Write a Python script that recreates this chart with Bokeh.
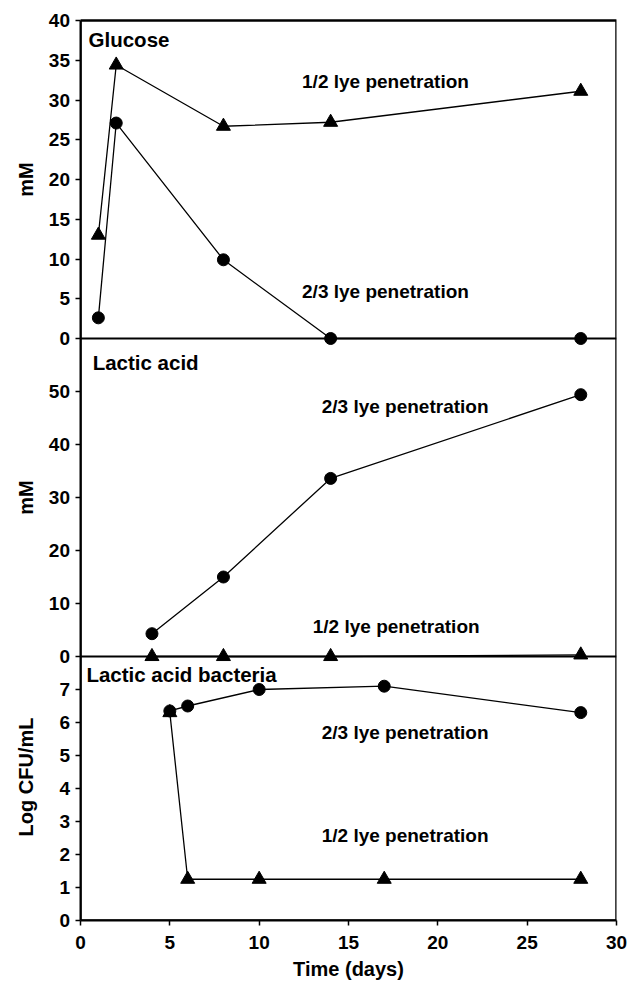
import math
from bokeh.plotting import figure
from bokeh.models import Range1d, FixedTicker, Label, CustomLabelingPolicy
from bokeh.layouts import row, column
from bokeh.core.properties import value
from bokeh.embed import file_html
from bokeh.resources import INLINE

# ---------------- data ----------------
glucose_days = [1, 2, 8, 14, 28]
glucose_half = [13.0, 34.4, 26.7, 27.2, 31.1]          # 1/2 lye penetration
glucose_twothirds = [2.6, 27.1, 9.9, 0.0, 0.0]         # 2/3 lye penetration

lactic_days = [4, 8, 14, 28]
lactic_twothirds = [4.3, 15.0, 33.6, 49.4]
lactic_half = [0.0, 0.0, 0.0, 0.3]

lab_days = [5, 6, 10, 17, 28]
lab_twothirds = [6.35, 6.5, 7.0, 7.1, 6.3]
lab_half = [6.3, 1.25, 1.25, 1.25, 1.25]

glucose_ticks = [0, 5, 10, 15, 20, 25, 30, 35, 40]
lactic_ticks = [0, 10, 20, 30, 40, 50]
lab_ticks = [0, 1, 2, 3, 4, 5, 6, 7]
x_ticks = [0, 5, 10, 15, 20, 25, 30]

# ---------------- layout constants (pixels) ----------------
W, H = 628, 981
FRAME_L, FRAME_W, PANEL_T = 80, 536, 20
H1, H2, H3 = 318, 318, 264          # stacked panel heights
HT = H1 + H2 + H3
G_MAX, L_MAX, B_MAX = 40, 60, 8
GUT_W = 72                          # left gutter figure width (tick labels + titles)
MAIN_BL = FRAME_L - GUT_W           # main figure's own left border (tick marks)
MAIN_BB = 11                        # main figure's bottom border (tick marks)
MAIN_H = PANEL_T + HT + MAIN_BB     # height of the top row
STRIP_H = H - MAIN_H

# value of each panel's scale at q pixels below the top of the glucose panel
def glu_at(q):
    return G_MAX - q * G_MAX / H1

def lac_at(q):
    return L_MAX - (q - H1) * L_MAX / H2

def lab_at(q):
    return B_MAX - (q - H1 - H2) * B_MAX / H3

def lac_q(v):
    return H1 + (L_MAX - v) * H2 / L_MAX

def lab_q(v):
    return H1 + H2 + (B_MAX - v) * H3 / B_MAX

FONT = "Liberation Sans"
FS = "19px"          # tick labels, series notes
FS_TITLE = "20.5px"  # panel titles
FS_AX = "20px"       # axis titles

# ================= main plotting figure (frame from canvas top to the x axis) =================
q_top, q_bot = -PANEL_T, HT
p = figure(frame_width=FRAME_W, frame_height=PANEL_T + HT, title=None,
           x_range=Range1d(0, 30), y_range=Range1d(glu_at(q_bot), glu_at(q_top)),
           output_backend="svg", toolbar_location=None,
           min_border_left=MAIN_BL, min_border_right=W - FRAME_L - FRAME_W,
           min_border_top=0, min_border_bottom=MAIN_BB)
p.extra_y_ranges = {"lactic": Range1d(lac_at(q_bot), lac_at(q_top)),
                    "lab": Range1d(lab_at(q_bot), lab_at(q_top))}
p.xgrid.visible = False
p.ygrid.visible = False
p.outline_line_color = None
p.background_fill_color = "white"
p.border_fill_color = "white"

tick_pos = [float(v) for v in glucose_ticks] + \
           [glu_at(lac_q(v)) for v in lactic_ticks] + \
           [glu_at(lab_q(v)) for v in lab_ticks]

no_labels = CustomLabelingPolicy(code="""
for (const i of indices) { indices.unset(i) }
return indices
""")

for ax, ticks in ((p.yaxis[0], tick_pos), (p.xaxis[0], x_ticks)):
    ax.ticker = FixedTicker(ticks=ticks)
    ax.minor_tick_line_color = None
    ax.major_tick_in = 0
    ax.major_tick_out = 5
    ax.major_tick_line_width = 1.5
    ax.axis_line_width = 2
    ax.major_label_standoff = 0
    ax.major_label_text_font_size = "0px"
    ax.major_label_policy = no_labels
p.yaxis[0].bounds = (glu_at(HT), G_MAX)
p.xaxis[0].bounds = (0, 30)

# panel box and separators
p.quad(left=[0], right=[30], bottom=[glu_at(HT)], top=[G_MAX],
       fill_color=None, line_color="black", line_width=2.5)
p.hspan(y=[0], line_color="black", line_width=2)
p.hspan(y=[0], line_color="black", line_width=2, y_range_name="lactic")

LW = 1.3
# Glucose
p.line(glucose_days, glucose_half, line_color="black", line_width=LW)
p.line(glucose_days, glucose_twothirds, line_color="black", line_width=LW)
p.scatter(glucose_days, glucose_half, marker="triangle", size=14, color="black")
p.scatter(glucose_days, glucose_twothirds, marker="circle", size=12, color="black")
# Lactic acid
p.line(lactic_days, lactic_twothirds, line_color="black", line_width=LW, y_range_name="lactic")
p.line(lactic_days, lactic_half, line_color="black", line_width=LW, y_range_name="lactic")
p.scatter(lactic_days, lactic_twothirds, marker="circle", size=12, color="black", y_range_name="lactic")
p.scatter(lactic_days, lactic_half, marker="triangle", size=14, color="black", y_range_name="lactic")
# Lactic acid bacteria
p.line(lab_days, lab_twothirds, line_color="black", line_width=LW, y_range_name="lab")
p.line(lab_days, lab_half, line_color="black", line_width=LW, y_range_name="lab")
p.scatter(lab_days, lab_twothirds, marker="circle", size=12, color="black", y_range_name="lab")
p.scatter(lab_days, lab_half, marker="triangle", size=14, color="black", y_range_name="lab")

def add_label(text, x, y, rng="default", size=FS):
    p.add_layout(Label(x=x, y=y, text=text, y_range_name=rng,
                       text_font=FONT, text_font_style="bold", text_font_size=size,
                       text_color="black", text_align="left", text_baseline="middle"))

add_label("Glucose", 0.45, 37.6, size=FS_TITLE)
add_label("Lactic acid", 0.68, 55.4, "lactic", size=FS_TITLE)
add_label("Lactic acid bacteria", 0.33, 7.45, "lab", size=FS_TITLE)
add_label("1/2 lye penetration", 12.4, 32.3)
add_label("2/3 lye penetration", 12.4, 5.9)
add_label("2/3 lye penetration", 13.5, 47.2, "lactic")
add_label("1/2 lye penetration", 13.0, 5.66, "lactic")
add_label("2/3 lye penetration", 13.5, 5.71, "lab")
add_label("1/2 lye penetration", 13.5, 2.58, "lab")

# ================= left gutter: y tick labels and y titles =================
gq_top, gq_bot = -PANEL_T, HT + MAIN_BB
g = figure(frame_width=GUT_W, frame_height=MAIN_H, title=None,
           x_range=Range1d(0, GUT_W),
           y_range=Range1d(glu_at(gq_bot), glu_at(gq_top)),
           output_backend="svg", toolbar_location=None,
           x_axis_location=None, y_axis_location=None,
           min_border=0, min_border_left=0, min_border_right=0,
           min_border_top=0, min_border_bottom=0)
g.extra_y_ranges = {"lactic": Range1d(lac_at(gq_bot), lac_at(gq_top)),
                    "lab": Range1d(lab_at(gq_bot), lab_at(gq_top))}
g.outline_line_color = None
g.xgrid.visible = False
g.ygrid.visible = False
g.background_fill_color = "white"
g.border_fill_color = "white"

TICK_X = 69.5
TITLE_X = 25
txt_kw = dict(text_font=value(FONT), text_font_style="bold", text_color="black",
              text_baseline="middle")
for ticks, rng in ((glucose_ticks, "default"), (lactic_ticks, "lactic"), (lab_ticks, "lab")):
    g.text(x=[TICK_X] * len(ticks), y=ticks, text=[str(t) for t in ticks],
           text_align="right", y_range_name=rng, text_font_size=value(FS), **txt_kw)

g.text(x=[TITLE_X], y=[G_MAX / 2], text=["mM"], angle=math.pi / 2,
       text_align="center", text_font_size=value(FS_AX), **txt_kw)
g.text(x=[TITLE_X], y=[L_MAX / 2], text=["mM"], angle=math.pi / 2, y_range_name="lactic",
       text_align="center", text_font_size=value(FS_AX), **txt_kw)
g.text(x=[TITLE_X], y=[4.35], text=["Log CFU/mL"], angle=math.pi / 2, y_range_name="lab",
       text_align="center", text_font_size=value(FS_AX), **txt_kw)

# ================= bottom strip: x tick labels and x title =================
DAY_PX = FRAME_W / 30.0
s = figure(frame_width=W, frame_height=STRIP_H, title=None,
           x_range=Range1d(-FRAME_L / DAY_PX, (W - FRAME_L) / DAY_PX),
           y_range=Range1d(STRIP_H, 0),
           output_backend="svg", toolbar_location=None,
           x_axis_location=None, y_axis_location=None,
           min_border=0, min_border_left=0, min_border_right=0,
           min_border_top=0, min_border_bottom=0)
s.outline_line_color = None
s.xgrid.visible = False
s.ygrid.visible = False
s.background_fill_color = "white"
s.border_fill_color = "white"

XT_Y = 942 - MAIN_H
XTITLE_Y = 968 - MAIN_H
s.text(x=x_ticks, y=[XT_Y] * len(x_ticks), text=[str(t) for t in x_ticks],
       text_align="center", text_font_size=value(FS), **txt_kw)
s.text(x=[15], y=[XTITLE_Y], text=["Time (days)"], text_align="center",
       text_font_size=value(FS_AX), **txt_kw)

layout = column(row(g, p), s)
open("out.html", "w").write(file_html(layout, INLINE))
